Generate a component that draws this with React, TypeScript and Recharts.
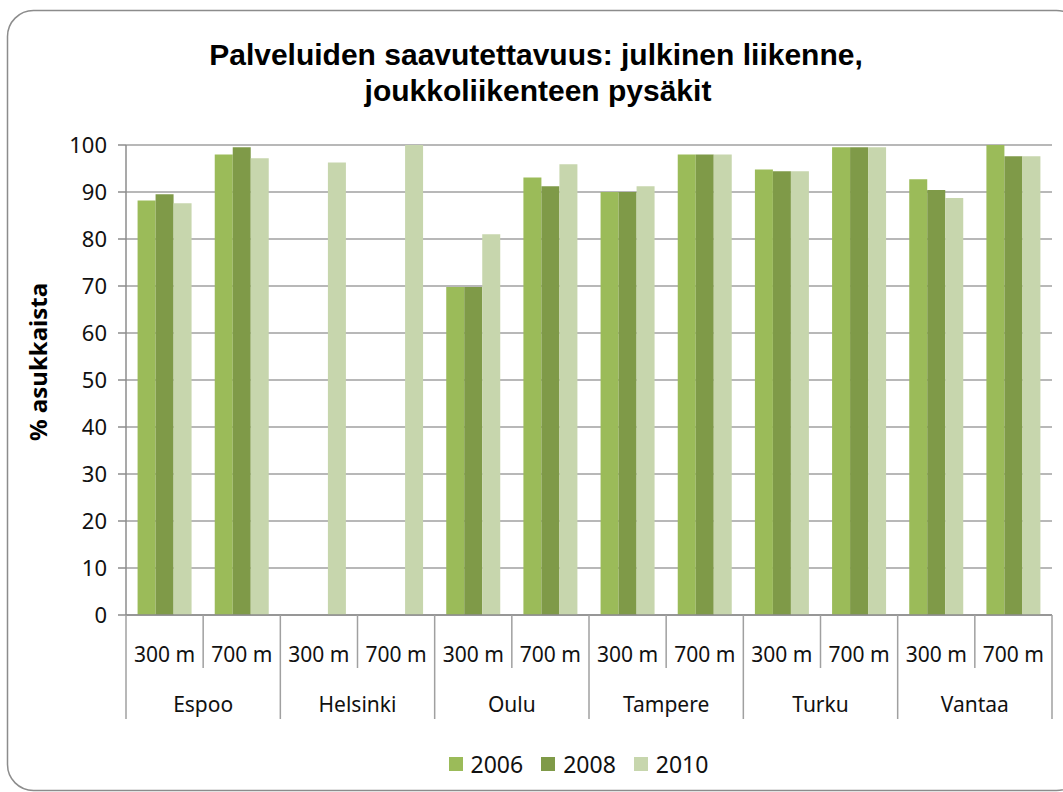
import { BarChart, Bar, XAxis, YAxis, CartesianGrid, Legend } from 'recharts';

const cities = ['Espoo', 'Helsinki', 'Oulu', 'Tampere', 'Turku', 'Vantaa'];
const distances = ['300 m', '700 m'];
const years = ['2006', '2008', '2010'];
const colors = ['#9bbb59', '#7f9a48', '#c7d6ad'];

// % asukkaista, order: Espoo 300 m, Espoo 700 m, Helsinki 300 m, ...
const values2006 = [88.2, 98.0, null, null, 69.8, 93.1, 90.0, 98.0, 94.8, 99.5, 92.7, 100];
const values2008 = [89.5, 99.5, null, null, 69.8, 91.2, 90.0, 98.0, 94.4, 99.5, 90.4, 97.6];
const values2010 = [87.6, 97.2, 96.3, 100, 81.0, 95.9, 91.2, 98.0, 94.4, 99.5, 88.7, 97.6];
const yTicks = [0, 10, 20, 30, 40, 50, 60, 70, 80, 90, 100];

const data = cities.flatMap((city, ci) =>
  distances.map((dist, di) => {
    const i = ci * distances.length + di;
    return {
      key: `${city} ${dist}`,
      city,
      dist,
      y2006: values2006[i],
      y2008: values2008[i],
      y2010: values2010[i],
    };
  })
);

const font = '"Noto Sans", sans-serif';

// two-level category labels: distance row + city row, with separators
function CategoryTick(props: any) {
  const { x, y, payload } = props;
  const i = payload?.index ?? props.index;
  const half = payload?.offset || 38.6;
  const row = data[i];
  if (!row) return null;
  const cityStart = i % distances.length === 0;
  return (
    <g>
      <line x1={x - half} x2={x - half} y1={y} y2={y + (cityStart ? 104 : 53)} stroke="#a0a0a0" strokeWidth={1.5} />
      {i === data.length - 1 && (
        <line x1={x + half} x2={x + half} y1={y} y2={y + 104} stroke="#a0a0a0" strokeWidth={1.5} />
      )}
      <text x={x} y={y + 47} textAnchor="middle" fontSize={21} fontFamily={font} fill="#111">
        {row.dist}
      </text>
      {cityStart && (
        <text x={x + half} y={y + 97} textAnchor="middle" fontSize={21} fontFamily={font} fill="#111">
          {row.city}
        </text>
      )}
    </g>
  );
}

function YTitle(props: any) {
  const vb = props.viewBox || { y: 145, height: 470 };
  const cy = vb.y + vb.height / 2 - 18;
  return (
    <text
      x={37}
      y={cy}
      transform={`rotate(-90, 37, ${cy})`}
      textAnchor="middle"
      dominantBaseline="central"
      fontSize={24}
      fontWeight="bold"
      fontFamily={font}
      fill="#000"
    >
      % asukkaista
    </text>
  );
}

function LegendBox() {
  return (
    <div style={{ display: 'flex', justifyContent: 'center', alignItems: 'center', height: 24, paddingLeft: 94, fontFamily: font }}>
      {years.map((yr, i) => (
        <div key={yr} style={{ display: 'flex', alignItems: 'center', marginRight: i < years.length - 1 ? 18 : 0 }}>
          <span style={{ width: 14, height: 14, background: colors[i], display: 'inline-block', marginRight: 8 }} />
          <span style={{ fontSize: 23, color: '#111', lineHeight: '24px' }}>{yr}</span>
        </div>
      ))}
    </div>
  );
}

export default function App() {
  return (
    <div style={{ position: 'absolute', left: 0, top: 0, width: 1063, height: 792, overflow: 'hidden', background: '#fff' }}>
      <BarChart
        width={1063}
        height={792}
        data={data}
        margin={{ top: 145, right: 11, left: 0, bottom: 72 }}
        barCategoryGap="15%"
        barGap={0}
      >
        <CartesianGrid vertical={false} stroke="#b8b8b8" strokeWidth={2} />
        <XAxis
          dataKey="key"
          interval={0}
          height={105}
          tickSize={0}
          tickMargin={0}
          tickLine={false}
          axisLine={{ stroke: '#8c8c8c', strokeWidth: 1.5 }}
          tick={<CategoryTick />}
        />
        <YAxis
          width={126}
          domain={[0, 100]}
          ticks={yTicks}
          interval={0}
          tickSize={8}
          tickMargin={11}
          tickLine={{ stroke: '#8c8c8c', strokeWidth: 1.5 }}
          axisLine={{ stroke: '#8c8c8c', strokeWidth: 1.5 }}
          tick={{ fontSize: 22, fontFamily: font, fill: '#111' }}
          label={<YTitle />}
        />
        <Legend
          layout="horizontal"
          verticalAlign="middle"
          align="center"
          wrapperStyle={{ position: 'absolute', top: 752, left: 0, width: 1063 }}
          content={() => <LegendBox />}
        />
        {years.map((yr, i) => (
          <Bar key={yr} dataKey={`y${yr}`} name={yr} fill={colors[i]} isAnimationActive={false} />
        ))}
      </BarChart>
      <svg
        width={1063}
        height={792}
        style={{ position: 'absolute', left: 0, top: 0, pointerEvents: 'none' }}
      >
        <rect x={7.5} y={10.5} width={1075} height={780} rx={26} fill="none" stroke="#8c8c8c" strokeWidth={1.5} />
        <text x={536} y={65} textAnchor="middle" fontSize={30} fontWeight="bold" fontFamily='"Liberation Sans", Arial, sans-serif' fill="#000">
          Palveluiden saavutettavuus: julkinen liikenne,
        </text>
        <text x={538} y={101} textAnchor="middle" fontSize={30} fontWeight="bold" fontFamily='"Liberation Sans", Arial, sans-serif' fill="#000">
          joukkoliikenteen pysäkit
        </text>
      </svg>
    </div>
  );
}
